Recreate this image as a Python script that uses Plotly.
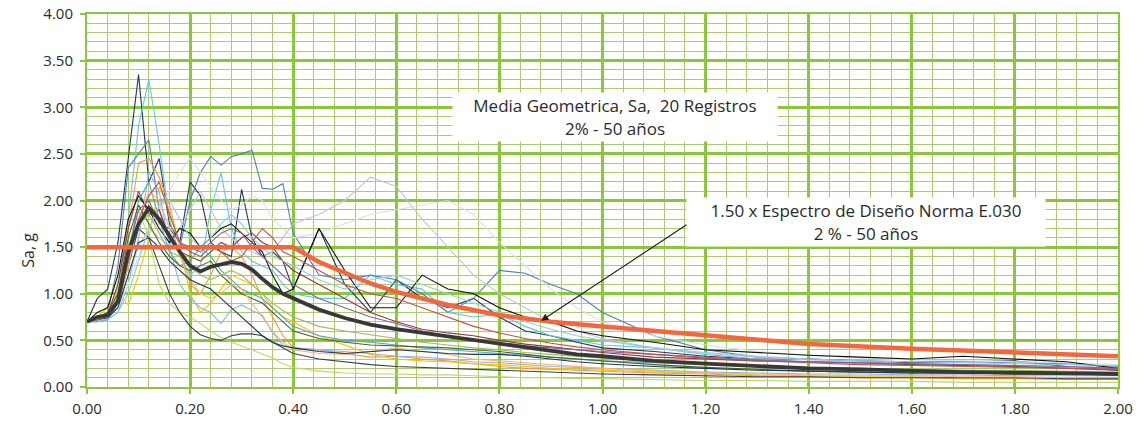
import plotly.graph_objects as go

# Periods (s)
periods = [0.00, 0.02, 0.04, 0.06, 0.08, 0.10, 0.12, 0.14, 0.16, 0.18,
           0.20, 0.22, 0.24, 0.26, 0.28, 0.30, 0.32, 0.34, 0.36, 0.38,
           0.40, 0.45, 0.50, 0.55, 0.60, 0.65, 0.70, 0.75, 0.80, 0.85,
           0.90, 0.95, 1.00, 1.10, 1.20, 1.30, 1.40, 1.50, 1.60, 1.70,
           1.80, 1.90, 2.00]

# Spectral accelerations of the 20 scaled records (g)
rec01 = [0.70, 0.95, 1.05, 1.55, 2.45, 3.35, 2.20, 2.45, 1.75, 1.55, 2.20, 2.05, 1.55, 1.45, 1.40, 2.12, 1.60, 1.40, 1.45, 1.35, 1.05, 1.70, 1.10, 0.80, 1.15, 0.95, 0.85, 0.95, 0.75, 0.60, 0.55, 0.48, 0.42, 0.38, 0.33, 0.30, 0.30, 0.28, 0.26, 0.27, 0.28, 0.22, 0.18]
rec02 = [0.72, 0.72, 0.75, 1.10, 1.80, 2.80, 3.30, 2.60, 1.80, 1.40, 1.20, 1.30, 1.90, 2.30, 1.70, 1.45, 1.35, 1.30, 1.25, 1.10, 1.00, 0.95, 0.95, 1.20, 1.10, 1.05, 0.80, 0.75, 0.78, 0.65, 0.55, 0.50, 0.45, 0.42, 0.35, 0.30, 0.27, 0.25, 0.24, 0.23, 0.22, 0.21, 0.20]
rec03 = [0.70, 0.75, 0.80, 1.30, 2.35, 2.50, 2.65, 1.90, 1.55, 1.50, 2.00, 2.30, 2.47, 2.38, 2.47, 2.50, 2.54, 2.13, 2.12, 2.18, 1.65, 1.20, 1.15, 1.20, 1.15, 1.00, 0.80, 0.95, 1.25, 1.22, 1.10, 1.00, 0.80, 0.55, 0.40, 0.32, 0.30, 0.28, 0.27, 0.27, 0.26, 0.25, 0.22]
rec04 = [0.70, 0.72, 0.78, 1.00, 1.70, 2.40, 2.45, 2.25, 1.95, 1.50, 1.10, 1.00, 1.20, 1.45, 1.50, 1.40, 1.20, 0.95, 0.75, 0.55, 0.42, 0.40, 0.36, 0.32, 0.33, 0.30, 0.28, 0.25, 0.22, 0.20, 0.19, 0.18, 0.17, 0.15, 0.14, 0.12, 0.11, 0.10, 0.10, 0.09, 0.09, 0.08, 0.08]
rec05 = [0.70, 0.75, 0.85, 1.00, 0.88, 1.20, 1.60, 2.15, 1.90, 1.50, 1.00, 0.80, 0.90, 1.05, 1.20, 1.15, 1.10, 1.00, 0.85, 0.75, 0.70, 0.55, 0.45, 0.35, 0.30, 0.28, 0.27, 0.25, 0.24, 0.22, 0.20, 0.19, 0.18, 0.16, 0.15, 0.13, 0.12, 0.11, 0.11, 0.10, 0.10, 0.10, 0.09]
rec06 = [0.70, 0.72, 0.80, 1.05, 1.50, 1.90, 1.60, 1.10, 0.90, 0.80, 0.75, 0.68, 0.60, 0.53, 0.48, 0.44, 0.40, 0.35, 0.31, 0.25, 0.21, 0.17, 0.15, 0.14, 0.14, 0.13, 0.13, 0.12, 0.11, 0.10, 0.10, 0.09, 0.09, 0.08, 0.07, 0.07, 0.06, 0.06, 0.06, 0.05, 0.05, 0.05, 0.05]
rec07 = [0.70, 0.70, 0.72, 0.90, 1.30, 1.70, 1.60, 1.30, 1.00, 0.80, 0.65, 0.56, 0.52, 0.50, 0.55, 0.57, 0.57, 0.55, 0.48, 0.42, 0.36, 0.30, 0.27, 0.24, 0.22, 0.21, 0.20, 0.19, 0.18, 0.17, 0.16, 0.15, 0.14, 0.13, 0.12, 0.11, 0.11, 0.10, 0.10, 0.10, 0.10, 0.09, 0.09]
rec08 = [0.72, 0.70, 0.72, 0.80, 1.10, 1.60, 2.30, 2.10, 1.50, 1.10, 0.95, 0.85, 0.80, 0.68, 0.83, 0.88, 0.82, 0.77, 0.58, 0.45, 0.42, 0.40, 0.38, 0.36, 0.33, 0.32, 0.30, 0.27, 0.26, 0.24, 0.22, 0.21, 0.20, 0.18, 0.16, 0.15, 0.14, 0.14, 0.13, 0.13, 0.12, 0.12, 0.12]
rec09 = [0.70, 0.72, 0.75, 0.90, 1.20, 1.50, 1.70, 1.60, 1.50, 1.70, 1.90, 2.10, 1.90, 1.70, 1.60, 1.50, 1.45, 1.40, 1.45, 1.60, 1.75, 1.85, 2.00, 2.25, 2.15, 1.80, 1.50, 1.20, 1.00, 0.85, 0.70, 0.60, 0.52, 0.42, 0.36, 0.32, 0.29, 0.27, 0.25, 0.24, 0.23, 0.22, 0.21]
rec10 = [0.70, 0.72, 0.74, 0.85, 1.10, 1.40, 1.70, 1.90, 2.10, 2.30, 2.45, 2.30, 2.15, 2.00, 1.90, 1.95, 2.05, 2.00, 1.80, 1.70, 1.60, 1.65, 1.75, 1.85, 1.90, 1.95, 2.00, 1.85, 1.55, 1.30, 1.05, 0.85, 0.70, 0.55, 0.45, 0.38, 0.34, 0.31, 0.29, 0.28, 0.27, 0.26, 0.24]
rec11 = [0.70, 0.72, 0.78, 1.10, 1.70, 2.10, 1.85, 1.90, 1.60, 1.45, 1.40, 1.35, 1.45, 1.55, 1.50, 1.60, 1.65, 1.55, 1.50, 1.35, 1.25, 1.10, 0.95, 0.80, 0.70, 0.62, 0.58, 0.55, 0.50, 0.46, 0.43, 0.40, 0.37, 0.32, 0.30, 0.28, 0.27, 0.26, 0.24, 0.23, 0.22, 0.20, 0.18]
rec12 = [0.70, 0.80, 0.85, 1.20, 1.80, 2.05, 1.90, 1.70, 1.55, 1.70, 1.65, 1.50, 1.60, 1.70, 1.75, 1.65, 1.55, 1.45, 1.20, 1.00, 1.05, 1.70, 1.25, 0.85, 0.85, 1.20, 1.05, 1.00, 0.85, 0.75, 0.70, 0.60, 0.55, 0.48, 0.40, 0.37, 0.34, 0.32, 0.30, 0.33, 0.30, 0.27, 0.20]
rec13 = [0.72, 0.75, 0.78, 0.95, 1.40, 2.00, 2.20, 1.80, 1.45, 1.30, 1.35, 1.50, 1.40, 1.25, 1.15, 1.05, 1.00, 0.95, 0.85, 0.75, 0.65, 0.55, 0.50, 0.48, 0.45, 0.42, 0.40, 0.38, 0.36, 0.34, 0.32, 0.30, 0.28, 0.26, 0.24, 0.22, 0.20, 0.19, 0.18, 0.18, 0.17, 0.16, 0.15]
rec14 = [0.70, 0.72, 0.76, 0.95, 1.45, 1.90, 2.00, 1.75, 1.70, 1.55, 1.50, 1.45, 1.55, 1.65, 1.70, 1.65, 1.50, 1.40, 1.30, 1.20, 1.10, 0.95, 0.85, 0.75, 0.68, 0.60, 0.55, 0.50, 0.47, 0.44, 0.42, 0.40, 0.38, 0.35, 0.32, 0.29, 0.27, 0.26, 0.25, 0.24, 0.23, 0.22, 0.20]
rec15 = [0.70, 0.73, 0.80, 1.00, 1.60, 1.95, 1.75, 1.55, 1.40, 1.30, 1.25, 1.30, 1.35, 1.20, 1.10, 1.00, 0.95, 0.90, 0.80, 0.70, 0.60, 0.52, 0.48, 0.45, 0.44, 0.43, 0.42, 0.40, 0.38, 0.35, 0.32, 0.30, 0.28, 0.24, 0.21, 0.19, 0.17, 0.16, 0.15, 0.15, 0.14, 0.14, 0.13]
rec16 = [0.70, 0.72, 0.75, 0.90, 1.30, 1.80, 2.10, 2.00, 1.70, 1.40, 1.15, 1.00, 0.95, 1.00, 1.10, 1.05, 0.90, 0.75, 0.60, 0.48, 0.40, 0.36, 0.35, 0.38, 0.42, 0.38, 0.35, 0.30, 0.28, 0.26, 0.24, 0.22, 0.20, 0.17, 0.15, 0.14, 0.13, 0.12, 0.12, 0.11, 0.11, 0.10, 0.10]
rec17 = [0.70, 0.72, 0.74, 0.85, 1.20, 1.55, 1.60, 1.50, 1.35, 1.25, 1.15, 1.10, 1.05, 0.95, 0.85, 0.75, 0.65, 0.55, 0.48, 0.44, 0.42, 0.38, 0.36, 0.38, 0.40, 0.38, 0.36, 0.35, 0.35, 0.33, 0.30, 0.27, 0.25, 0.22, 0.20, 0.18, 0.17, 0.16, 0.15, 0.15, 0.14, 0.14, 0.13]
rec18 = [0.70, 0.71, 0.73, 0.80, 1.00, 1.35, 1.70, 1.95, 2.00, 1.80, 1.60, 1.50, 1.60, 1.75, 1.85, 1.75, 1.60, 1.50, 1.40, 1.35, 1.30, 1.15, 1.05, 1.15, 1.20, 1.10, 1.00, 0.90, 0.80, 0.70, 0.62, 0.55, 0.50, 0.42, 0.37, 0.33, 0.30, 0.28, 0.27, 0.26, 0.25, 0.24, 0.23]
rec19 = [0.70, 0.72, 0.76, 0.92, 1.35, 1.80, 2.05, 2.20, 1.85, 1.55, 1.45, 1.40, 1.50, 1.45, 1.35, 1.40, 1.55, 1.70, 1.60, 1.45, 1.40, 1.25, 1.10, 1.00, 0.95, 0.85, 0.75, 0.65, 0.58, 0.52, 0.47, 0.43, 0.40, 0.35, 0.31, 0.28, 0.26, 0.24, 0.23, 0.22, 0.21, 0.20, 0.19]
rec20 = [0.70, 0.73, 0.77, 0.95, 1.40, 1.75, 1.85, 1.65, 1.45, 1.40, 1.30, 1.20, 1.15, 1.20, 1.25, 1.20, 1.10, 1.00, 0.90, 0.82, 0.75, 0.65, 0.60, 0.56, 0.52, 0.48, 0.45, 0.42, 0.40, 0.37, 0.35, 0.33, 0.31, 0.28, 0.25, 0.23, 0.21, 0.20, 0.19, 0.18, 0.18, 0.17, 0.16]

records = [rec01, rec02, rec03, rec04, rec05, rec06, rec07, rec08, rec09, rec10,
           rec11, rec12, rec13, rec14, rec15, rec16, rec17, rec18, rec19, rec20]

record_colors = ["#1f3864", "#63c6e6", "#4f81bd", "#f79646", "#ffc000",
                 "#c3d66b", "#404040", "#8db4e2", "#c9bfdc", "#d6e0ee",
                 "#953735", "#111111", "#4bacc6", "#8064a2", "#4f6228",
                 "#fab37a", "#17375e", "#93cddd", "#c0504d", "#9bbb59"]

# Geometric mean of the 20 records (g)
geo_mean = [0.70, 0.75, 0.77, 0.92, 1.45, 1.75, 1.92, 1.80, 1.62, 1.45,
            1.30, 1.24, 1.29, 1.31, 1.34, 1.32, 1.26, 1.16, 1.07, 1.00,
            0.95, 0.83, 0.74, 0.67, 0.62, 0.58, 0.54, 0.51, 0.46, 0.42,
            0.38, 0.35, 0.33, 0.28, 0.25, 0.22, 0.20, 0.19, 0.17, 0.16,
            0.155, 0.15, 0.14]

# 1.50 x design spectrum, Norma E.030 (g)
spec_periods = [0.00, 0.40, 0.45, 0.50, 0.55, 0.60, 0.70, 0.80, 0.90, 1.00,
                1.20, 1.40, 1.60, 1.80, 2.00]
spec_sa = [1.50, 1.50, 1.34, 1.22, 1.11, 1.02, 0.88, 0.77, 0.70, 0.65,
           0.55, 0.46, 0.41, 0.37, 0.33]

x_ticks = [0.0, 0.2, 0.4, 0.6, 0.8, 1.0, 1.2, 1.4, 1.6, 1.8, 2.0]
x_tick_text = ["0.00", "0.20", "0.40", "0.60", "0.80", "1.00",
               "1.20", "1.40", "1.60", "1.80", "2.00"]
y_ticks = [0.0, 0.5, 1.0, 1.5, 2.0, 2.5, 3.0, 3.5, 4.0]
y_tick_text = ["0.00", "0.50", "1.00", "1.50", "2.00", "2.50", "3.00", "3.50", "4.00"]

FONT = "'Open Sans', Lato, sans-serif"
MAJOR_GREEN = "#8cc63f"
MINOR_GREEN = "#a9cc72"

fig = go.Figure()

for rec, col in zip(records, record_colors):
    fig.add_trace(go.Scatter(x=periods, y=rec, mode="lines",
                             line=dict(color=col, width=1.1),
                             showlegend=False, hoverinfo="skip"))

fig.add_trace(go.Scatter(x=periods, y=geo_mean, mode="lines",
                         line=dict(color="#383838", width=3.8),
                         showlegend=False))

fig.add_trace(go.Scatter(x=spec_periods, y=spec_sa, mode="lines",
                         line=dict(color="#f2673d", width=4.5),
                         showlegend=False))

axis_common = dict(
    showgrid=True, gridcolor=MAJOR_GREEN, gridwidth=2.5,
    showline=True, linecolor=MAJOR_GREEN, linewidth=2, mirror=True,
    ticks="outside", ticklen=5, tickcolor=MAJOR_GREEN, tickwidth=1.5,
    zeroline=False, automargin=False,
    tickfont=dict(family=FONT, size=15, color="#2a2a2a"),
)

fig.update_xaxes(range=[0, 2.0], tickvals=x_ticks, ticktext=x_tick_text,
                 minor=dict(dtick=0.04, tick0=0, showgrid=True,
                            gridcolor=MINOR_GREEN, gridwidth=1, ticks=""),
                 ticklabelstandoff=2,
                 **axis_common)
fig.update_yaxes(range=[0, 4.0], tickvals=y_ticks, ticktext=y_tick_text,
                 minor=dict(dtick=0.1, tick0=0, showgrid=True,
                            gridcolor=MINOR_GREEN, gridwidth=1, ticks=""),
                 ticklabelstandoff=4,
                 **axis_common)

fig.add_annotation(x=1.024, y=2.895, xref="x", yref="y",
                   text="Media Geometrica, Sa,  20 Registros<br>2% - 50 años",
                   showarrow=False, align="center", bgcolor="white",
                   width=322, height=46,
                   font=dict(family=FONT, size=17, color="#2a2a2a"))

fig.add_annotation(x=1.511, y=1.77, xref="x", yref="y",
                   text="1.50 x Espectro de Diseño Norma E.030<br>2 % - 50 años",
                   showarrow=False, align="center", bgcolor="white",
                   width=356, height=46,
                   font=dict(family=FONT, size=17, color="#2a2a2a"))

fig.add_annotation(x=0.881, y=0.71, xref="x", yref="y",
                   ax=1.166, ay=1.75, axref="x", ayref="y",
                   text="", showarrow=True, arrowhead=2, arrowsize=1.3,
                   arrowwidth=1.1, arrowcolor="#1a1a1a")

fig.add_annotation(x=-0.0698, y=0.313, xref="paper", yref="paper",
                   text="Sa, g", textangle=-90, showarrow=False,
                   font=dict(family=FONT, size=16, color="#2a2a2a"))

fig.update_layout(width=1142, height=421,
                  margin=dict(l=87, r=24, t=14, b=34, autoexpand=False),
                  paper_bgcolor="white", plot_bgcolor="#fffffb",
                  showlegend=False)

fig.write_html("out.html")
